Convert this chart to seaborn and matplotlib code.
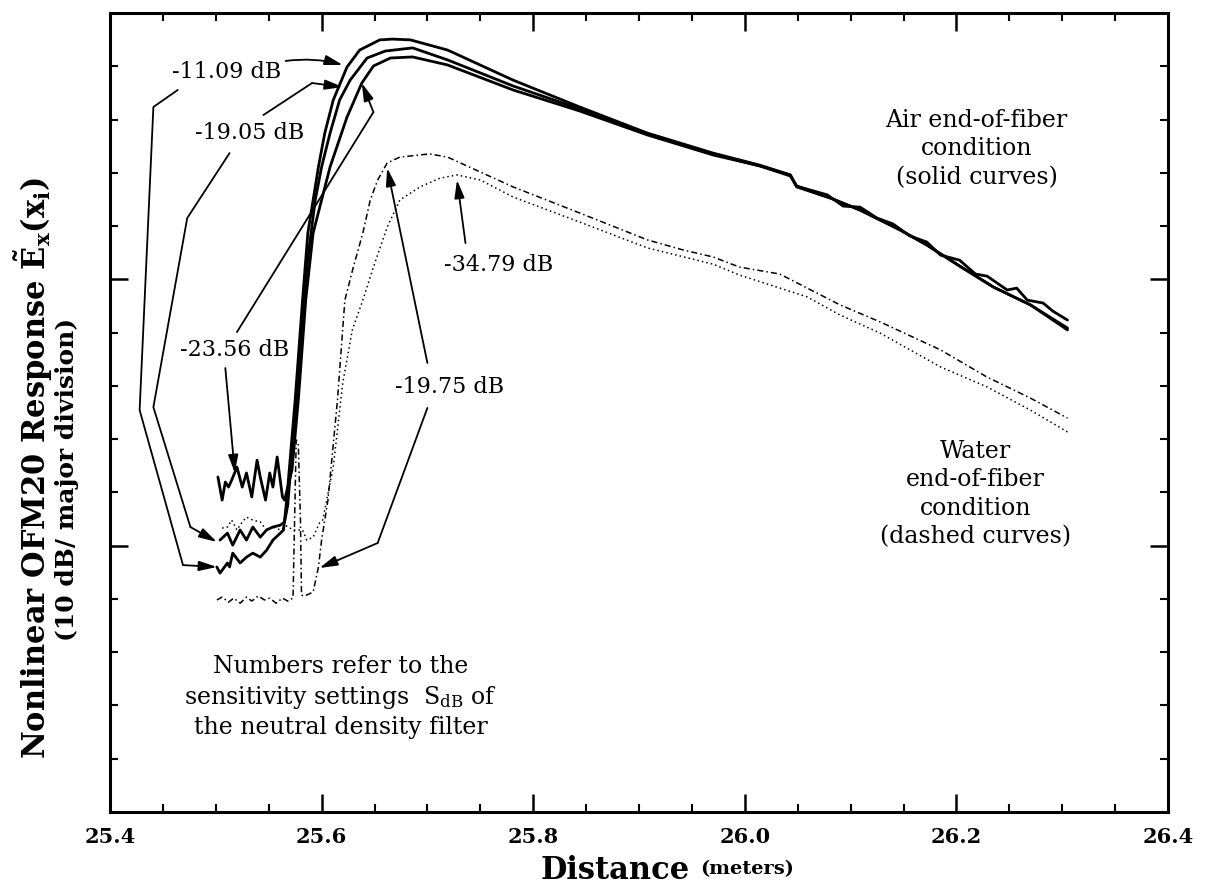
import matplotlib
matplotlib.use("Agg")
import matplotlib.pyplot as plt
from matplotlib.ticker import MultipleLocator, FormatStrFormatter
import seaborn as sns

# ---- Air end-of-fiber condition (solid curves), sensitivity -11.09 dB
air_1109_x = [25.501, 25.504, 25.511, 25.513, 25.516, 25.523, 25.529, 25.535, 25.542, 25.548,
              25.554, 25.561, 25.564, 25.567, 25.575, 25.582, 25.587, 25.592, 25.597, 25.603,
              25.611, 25.624, 25.636, 25.655, 25.667, 25.684, 25.719, 25.781, 25.844, 25.908,
              25.970, 26.014, 26.043, 26.049, 26.081, 26.109, 26.147, 26.172, 26.203, 26.235,
              26.270, 26.305]
air_1109_db = [-20.80, -21.03, -20.65, -20.80, -20.28, -20.65, -20.43, -20.28, -20.43, -20.17,
               -19.79, -19.53, -19.41, -18.29, -14.53, -10.78, -8.26, -7.02, -5.78, -4.51,
               -3.27, -2.03, -1.39, -1.01, -0.98, -1.01, -1.39, -2.52, -3.53, -4.51,
               -5.26, -5.71, -6.08, -6.50, -6.95, -7.40, -8.15, -8.71, -9.50, -10.29,
               -10.96, -11.83]

# ---- Air, sensitivity -19.05 dB
air_1905_x = [25.504, 25.511, 25.516, 25.523, 25.529, 25.535, 25.542, 25.548, 25.554, 25.561,
              25.565, 25.568, 25.576, 25.583, 25.588, 25.594, 25.600, 25.608, 25.617, 25.627,
              25.643, 25.660, 25.686, 25.719, 25.781, 25.844, 25.908, 25.970, 26.014, 26.043,
              26.049, 26.081, 26.109, 26.147, 26.172, 26.203, 26.235, 26.270, 26.305]
air_1905_db = [-19.79, -19.53, -19.98, -19.41, -19.79, -19.30, -19.68, -19.41, -19.30, -19.23,
               -19.11, -18.48, -14.53, -10.78, -8.90, -7.02, -5.78, -4.51, -3.27, -2.52,
               -1.69, -1.43, -1.31, -1.76, -2.74, -3.60, -4.54, -5.29, -5.74, -6.08,
               -6.53, -6.95, -7.40, -8.15, -8.71, -9.50, -10.29, -10.96, -11.90]

# ---- Air, sensitivity -23.56 dB
air_2356_x = [25.502, 25.506, 25.509, 25.512, 25.515, 25.520, 25.525, 25.529, 25.534, 25.539,
              25.542, 25.547, 25.551, 25.554, 25.558, 25.563, 25.565, 25.572, 25.578, 25.585,
              25.592, 25.600, 25.608, 25.624, 25.638, 25.649, 25.665, 25.686, 25.719, 25.781,
              25.844, 25.908, 25.970, 26.014, 26.043, 26.049, 26.078, 26.093, 26.109, 26.125,
              26.140, 26.156, 26.172, 26.185, 26.203, 26.218, 26.229, 26.248, 26.257, 26.267,
              26.282, 26.291, 26.305]
air_2356_db = [-17.42, -18.29, -17.61, -17.80, -17.54, -17.05, -17.80, -17.27, -18.17, -16.79,
               -17.42, -18.29, -17.27, -17.80, -16.67, -18.17, -18.29, -17.16, -14.53, -10.78,
               -8.26, -7.02, -5.78, -3.91, -2.63, -1.99, -1.69, -1.65, -1.95, -2.89,
               -3.68, -4.58, -5.33, -5.74, -6.12, -6.50, -6.83, -7.25, -7.29, -7.70,
               -7.92, -8.37, -8.60, -9.09, -9.28, -9.80, -9.88, -10.40, -10.33, -10.78,
               -10.89, -11.19, -11.53]

# ---- Water end-of-fiber condition (dashed curves), sensitivity -19.75 dB
water_1975_x = [25.501, 25.506, 25.512, 25.517, 25.523, 25.529, 25.534, 25.540, 25.546, 25.551,
                25.557, 25.563, 25.568, 25.573, 25.576, 25.578, 25.580, 25.581, 25.584, 25.592,
                25.597, 25.600, 25.606, 25.615, 25.622, 25.630, 25.639, 25.646, 25.653, 25.662,
                25.674, 25.702, 25.719, 25.781, 25.844, 25.908, 25.942, 25.970, 25.995, 26.033,
                26.059, 26.090, 26.128, 26.185, 26.229, 26.270, 26.305]
water_1975_db = [-22.04, -21.93, -22.12, -21.97, -22.16, -21.93, -22.08, -21.89, -22.04, -21.97,
                 -22.16, -21.97, -22.08, -21.97, -16.03, -16.22, -19.04, -21.86, -21.89, -21.74,
                 -20.80, -19.79, -18.29, -14.53, -10.78, -9.54, -8.26, -7.02, -6.27, -5.63,
                 -5.41, -5.29, -5.41, -6.53, -7.51, -8.52, -8.90, -9.16, -9.54, -9.80,
                 -10.33, -10.96, -11.60, -12.65, -13.67, -14.46, -15.21]

# ---- Water, sensitivity -34.79 dB
water_3479_x = [25.506, 25.511, 25.515, 25.520, 25.525, 25.529, 25.535, 25.542, 25.548, 25.554,
                25.561, 25.567, 25.573, 25.582, 25.586, 25.592, 25.598, 25.601, 25.603, 25.611,
                25.620, 25.629, 25.639, 25.649, 25.662, 25.674, 25.693, 25.712, 25.728, 25.750,
                25.781, 25.844, 25.908, 25.970, 25.995, 26.059, 26.090, 26.128, 26.185, 26.229,
                26.270, 26.305]
water_3479_db = [-19.34, -19.30, -19.04, -19.41, -19.11, -18.93, -19.04, -19.11, -19.41, -19.30,
                 -19.41, -19.26, -19.41, -19.41, -19.79, -19.68, -19.15, -19.04, -18.66, -17.05,
                 -13.89, -11.90, -10.78, -9.54, -8.04, -7.02, -6.53, -6.20, -6.08, -6.27,
                 -6.91, -7.85, -8.82, -9.43, -9.84, -10.66, -11.34, -12.02, -13.29, -14.04,
                 -14.91, -15.73]

x_ticks = [25.4, 25.6, 25.8, 26.0, 26.2, 26.4]

sns.set_theme(style="ticks")
plt.rcParams["font.family"] = ["DejaVu Serif"]
plt.rcParams["mathtext.fontset"] = "dejavuserif"
plt.rcParams["text.color"] = "black"
plt.rcParams["axes.labelcolor"] = "black"

fig = plt.figure(figsize=(12.06, 8.92), dpi=100)
ax = fig.add_axes([110 / 1206, 80 / 892, 1058 / 1206, 799 / 892])

solid_kw = dict(color="black", linewidth=2.0, sort=False, estimator=None)
sns.lineplot(x=air_1109_x, y=air_1109_db, ax=ax, **solid_kw)
sns.lineplot(x=air_1905_x, y=air_1905_db, ax=ax, **solid_kw)
sns.lineplot(x=air_2356_x, y=air_2356_db, ax=ax, **solid_kw)
sns.lineplot(x=water_1975_x, y=water_1975_db, ax=ax, color="black", linewidth=1.1,
             sort=False, estimator=None, linestyle=(0, (4, 2, 1, 2)))
sns.lineplot(x=water_3479_x, y=water_3479_db, ax=ax, color="black", linewidth=1.1,
             sort=False, estimator=None, linestyle=(0, (1, 2)))

ax.set_xlim(25.4, 26.4)
ax.set_ylim(-30, 0)
ax.set_xticks(x_ticks)
ax.xaxis.set_major_formatter(FormatStrFormatter("%.1f"))
ax.xaxis.set_minor_locator(MultipleLocator(0.05))
ax.yaxis.set_major_locator(MultipleLocator(10))
ax.yaxis.set_minor_locator(MultipleLocator(2))
ax.tick_params(which="both", direction="in", top=True, right=True, labelleft=False,
               colors="black", labelcolor="black")
ax.tick_params(which="major", length=13, width=1.8, pad=11, labelsize=15)
ax.tick_params(which="minor", length=6, width=1.5)
for lab in ax.get_xticklabels():
    lab.set_fontweight("bold")
for sp in ax.spines.values():
    sp.set_linewidth(2.2)
    sp.set_color("black")
ax.set_xlabel("")
ax.set_ylabel("")

# axis titles
ax.text(0.548, -0.073, "Distance", transform=ax.transAxes, ha="right", va="center",
        fontsize=22, fontweight="bold")
ax.text(0.558, -0.071, "(meters)", transform=ax.transAxes, ha="left", va="center",
        fontsize=14, fontweight="bold")
fig.text(34 / 1206, 0.475, r"Nonlinear OFM20 Response $\mathbf{\tilde{E}_x(x_i)}$",
         rotation=90, ha="center", va="center", fontsize=22, fontweight="bold")
fig.text(67 / 1206, 0.462, "(10 dB/ major division)", rotation=90, ha="center",
         va="center", fontsize=18, fontweight="bold")

# annotations
lab_kw = dict(fontsize=16, ha="center", va="center")
arrow_kw = dict(arrowstyle="-|>,head_length=0.9,head_width=0.25", color="black",
                lw=1.3, shrinkA=0, shrinkB=0)


def leader(path, tip):
    xs = [p[0] for p in path]
    ys = [p[1] for p in path]
    if len(path) > 1:
        ax.plot(xs, ys, color="black", lw=1.3)
    ax.annotate("", xy=tip, xytext=path[-1], arrowprops=arrow_kw)


ax.text(25.510, -2.22, "-11.09 dB", **lab_kw)
ax.annotate("", xy=(25.620, -1.95), xytext=(25.566, -1.80),
            arrowprops=dict(arrow_kw, connectionstyle="arc3,rad=-0.1"))
leader([(25.464, -2.89), (25.441, -3.53), (25.428, -14.91), (25.469, -20.73)],
       (25.501, -20.80))

ax.text(25.532, -4.51, "-19.05 dB", **lab_kw)
leader([(25.545, -3.83), (25.591, -2.63)], (25.620, -2.78))
leader([(25.513, -5.26), (25.473, -7.70), (25.441, -14.80), (25.476, -19.30)],
       (25.501, -19.86))

ax.text(25.518, -12.65, "-23.56 dB", **lab_kw)
leader([(25.520, -11.98), (25.649, -3.72)], (25.638, -2.63))
leader([(25.509, -13.33)], (25.518, -17.27))

ax.text(25.721, -14.04, "-19.75 dB", **lab_kw)
leader([(25.700, -13.14)], (25.662, -5.82))
leader([(25.700, -14.83), (25.653, -19.90)], (25.598, -20.84))

ax.text(25.767, -9.46, "-34.79 dB", **lab_kw)
leader([(25.736, -8.64)], (25.728, -6.27))

ax.text(26.219, -5.1, "Air end-of-fiber\ncondition\n(solid curves)", fontsize=17,
        ha="center", va="center", linespacing=1.3)
ax.text(26.218, -18.06, "Water\nend-of-fiber\ncondition\n(dashed curves)", fontsize=17,
        ha="center", va="center", linespacing=1.3)
ax.text(25.618, -25.69,
        "Numbers refer to the\nsensitivity settings  $\\mathregular{S_{dB}}$ of\nthe neutral density filter",
        fontsize=17, ha="center", va="center", linespacing=1.3)

fig.savefig("out.png", dpi=100, facecolor="white")
